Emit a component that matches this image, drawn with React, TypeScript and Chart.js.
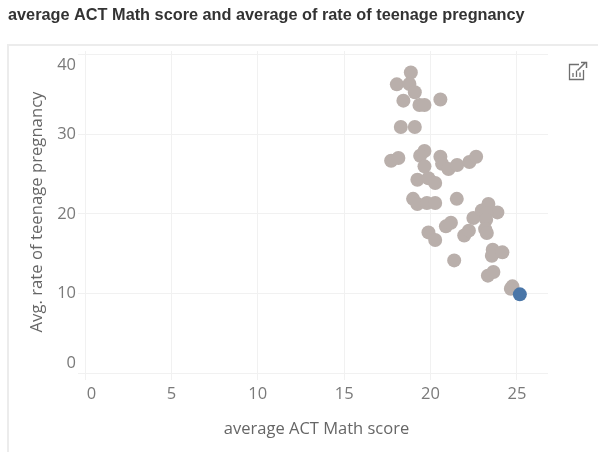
import React, { useEffect, useRef } from "react";
import { Chart, registerables } from "chart.js";

Chart.register(...registerables);

const chartTitle = "average ACT Math score and average of rate of teenage pregnancy";
const xAxisTitle = "average ACT Math score";
const yAxisTitle = "Avg. rate of teenage pregnancy";
const xTicks = [0, 5, 10, 15, 20, 25];
const yTicks = [0, 10, 20, 30, 40];

const mathScores = [
  18.86, 18.05, 18.78, 19.09, 18.43, 19.36, 19.65, 20.57, 18.28, 19.09,
  17.72, 18.14, 19.65, 19.4, 20.57, 20.67, 21.04, 21.54, 22.25, 22.64,
  19.65, 19.24, 19.88, 20.27, 18.99, 19.24, 19.79, 20.27, 21.52, 19.88,
  20.27, 20.89, 21.18, 21.95, 22.22, 22.48, 22.97, 23.35, 23.87, 23.22,
  23.22, 23.16, 23.26, 23.6, 23.55, 24.16, 21.37, 23.32, 23.64, 24.74, 24.65,
];
const pregnancyRates = [
  37.8, 36.3, 36.35, 35.3, 34.25, 33.7, 33.7, 34.4, 30.94, 30.94,
  26.7, 27.04, 27.92, 27.33, 27.2, 26.3, 25.66, 26.16, 26.54, 27.2,
  25.99, 24.3, 24.5, 23.9, 21.9, 21.26, 21.38, 21.38, 21.9, 17.68,
  16.73, 18.44, 18.9, 17.3, 17.9, 19.5, 20.45, 21.26, 20.2, 20.13,
  19.28, 18.1, 17.6, 15.5, 14.75, 15.17, 14.16, 12.24, 12.7, 10.9, 10.6,
];
const highlightScore = [25.17];
const highlightRate = [9.89];

const toPoints = (xs: number[], ys: number[]) => xs.map((x, i) => ({ x, y: ys[i] }));

export default function App() {
  const ref = useRef<HTMLCanvasElement>(null);

  useEffect(() => {
    if (!ref.current) return;
    const labelFont = '"Open Sans", sans-serif';
    const gridColor = "#f1f1f1";
    const chart = new Chart(ref.current, {
      type: "scatter",
      data: {
        datasets: [
          {
            order: 2,
            data: toPoints(mathScores, pregnancyRates),
            backgroundColor: "#b9afab",
            borderWidth: 0,
            pointRadius: 7,
          },
          {
            order: 1,
            data: toPoints(highlightScore, highlightRate),
            backgroundColor: "#4a76a8",
            borderWidth: 0,
            pointRadius: 7,
          },
        ],
      },
      options: {
        responsive: false,
        animation: false,
        layout: { padding: { left: 8, right: 50, top: 0, bottom: 0 } },
        plugins: {
          legend: { display: false },
          tooltip: { enabled: false },
          title: {
            display: true,
            text: chartTitle,
            align: "start",
            color: "#333333",
            font: { family: '"Liberation Sans", sans-serif', size: 16.3, weight: "bold" },
            padding: { top: 6, bottom: 25.4 },
          },
        },
        scales: {
          x: {
            type: "linear",
            min: 0,
            max: 26.8,
            afterBuildTicks: (axis: any) => {
              axis.ticks = xTicks.map((value) => ({ value }));
            },
            afterFit: (axis: any) => {
              axis.height = 79;
              axis.paddingLeft = 0;
              axis.paddingRight = 0;
            },
            grid: { color: gridColor, tickLength: 7, tickColor: gridColor },
            border: { display: false },
            ticks: {
              color: "#7a7a7a",
              font: { family: labelFont, size: 16.5 },
              padding: 4,
              maxRotation: 0,
              callback: (v: any) => (v === 0 ? "   0" : String(v)),
            },
            title: {
              display: true,
              text: xAxisTitle,
              color: "#666666",
              font: { family: labelFont, size: 16.5 },
              padding: { top: 13, bottom: 13 },
            },
          },
          y: {
            type: "linear",
            min: 0,
            max: 40.5,
            afterBuildTicks: (axis: any) => {
              axis.ticks = yTicks.map((value) => ({ value }));
            },
            afterFit: (axis: any) => {
              axis.width = 77;
              axis.paddingTop = 0;
              axis.paddingBottom = 0;
            },
            grid: { color: gridColor, tickLength: 7, tickColor: gridColor },
            border: { display: false },
            ticks: {
              color: "#7a7a7a",
              font: { family: labelFont, size: 16.5 },
              padding: 2,
              callback: (v: any) => {
                if (v === 0) return ["0", ""];
                if (v === 40) return ["", "40"];
                return String(v);
              },
            },
            title: {
              display: true,
              text: yAxisTitle,
              color: "#666666",
              font: { family: labelFont, size: 16.7 },
              padding: { top: 19, bottom: 19 },
            },
          },
        },
      },
    } as any);
    return () => chart.destroy();
  }, []);

  return (
    <div style={{ position: "absolute", left: 0, top: 0, width: 598, height: 452, overflow: "hidden", background: "#fff" }}>
      <div
        style={{
          position: "absolute",
          left: 7,
          top: 44,
          right: 0,
          bottom: 0,
          borderLeft: "2px solid #ececec",
          borderTop: "2px solid #ececec",
        }}
      />
      <canvas ref={ref} width={598} height={452} style={{ position: "absolute", left: 0, top: 0, display: "block" }} />
      <svg width={22} height={22} viewBox="0 0 22 22" style={{ position: "absolute", left: 567, top: 61 }} fill="none" stroke="#6f6f6f">
        <path d="M12 3.5H2.5V18.5H16.5V9" strokeWidth={1.3} />
        <path d="M10.5 9.5L18 2M14 1.5H19.5V7" strokeWidth={1.5} />
        <path d="M6 16V12M9.5 16V9.5M13 16V11.5" strokeWidth={1.3} />
      </svg>
    </div>
  );
}
